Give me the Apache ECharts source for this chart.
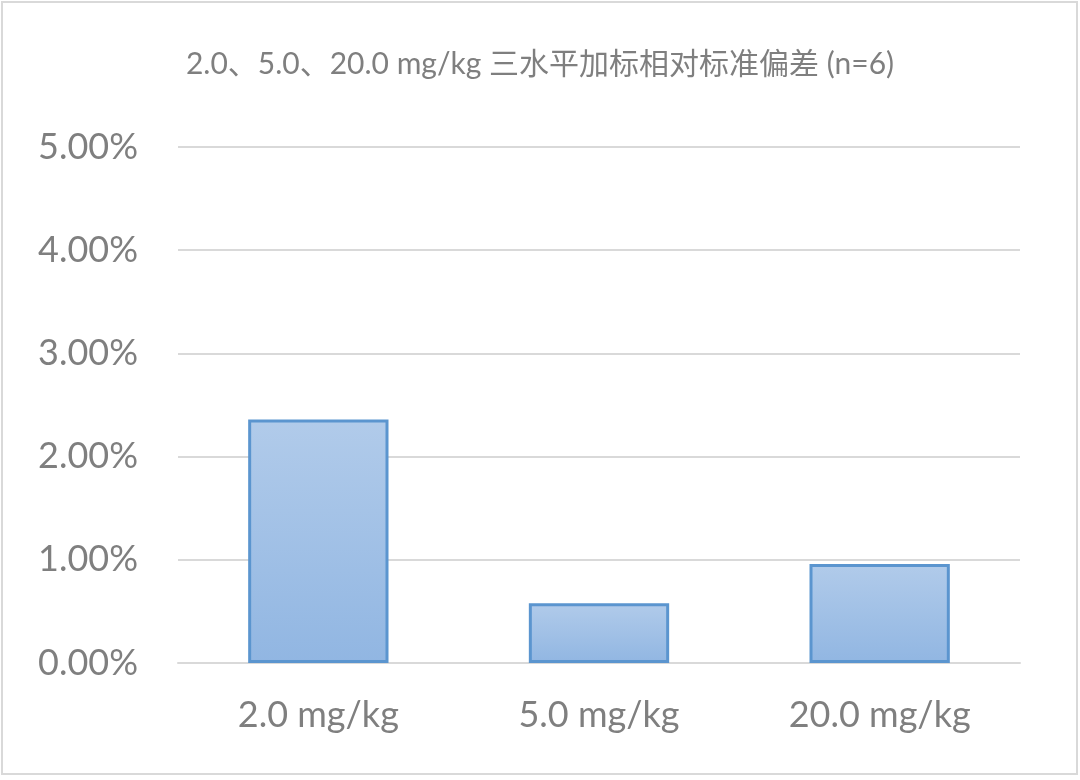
<!DOCTYPE html>
<html>
<head>
<meta charset="utf-8">
<script src="https://cdn.jsdelivr.net/npm/echarts@6/dist/echarts.min.js"></script>
<style>
html,body{margin:0;padding:0;background:#fff;}
#main{width:1080px;height:780px;}
</style>
</head>
<body>
<div id="main"></div>
<script>
const titleText = '2.0、5.0、20.0 mg/kg 三水平加标相对标准偏差 (n=6)';
const categories = ['2.0 mg/kg', '5.0 mg/kg', '20.0 mg/kg'];
const rsdValues = [0.0236, 0.0058, 0.0096];
const yTicks = { min: 0, max: 0.05, interval: 0.01 };

const FONT = 'Lato, "Noto Sans CJK SC", sans-serif';
const chart = echarts.init(document.getElementById('main'));
chart.setOption({
  backgroundColor: '#fff',
  animation: false,
  graphic: [{
    type: 'rect',
    shape: { x: 2, y: 2, width: 1075, height: 772 },
    style: { fill: 'none', stroke: '#d9d9d9', lineWidth: 2 }
  }],
  title: {
    text: titleText,
    left: 'center',
    top: 44,
    textStyle: { fontFamily: FONT, fontSize: 30, fontWeight: 'normal', color: '#7f7f7f' }
  },
  grid: { left: 178, right: 60, top: 147, bottom: 117, containLabel: false },
  xAxis: {
    type: 'category',
    data: categories,
    axisLine: { show: true, lineStyle: { color: '#d9d9d9', width: 2 } },
    axisTick: { show: false },
    axisLabel: { fontFamily: FONT, fontSize: 36, color: '#7f7f7f', margin: 34 }
  },
  yAxis: {
    type: 'value',
    min: yTicks.min,
    max: yTicks.max,
    interval: yTicks.interval,
    axisLine: { show: false },
    axisTick: { show: false },
    splitLine: { lineStyle: { color: '#d9d9d9', width: 2 } },
    axisLabel: {
      fontFamily: FONT, fontSize: 36, color: '#7f7f7f', margin: 40,
      formatter: v => (v * 100).toFixed(2) + '%'
    }
  },
  series: [{
    type: 'bar',
    data: rsdValues,
    barWidth: '50%',
    itemStyle: {
      color: new echarts.graphic.LinearGradient(0, 0, 0, 1, [
        { offset: 0, color: '#b1cbea' },
        { offset: 1, color: '#91b6e2' }
      ]),
      borderColor: '#5b95cf',
      borderWidth: 3
    }
  }]
});
</script>
</body>
</html>
